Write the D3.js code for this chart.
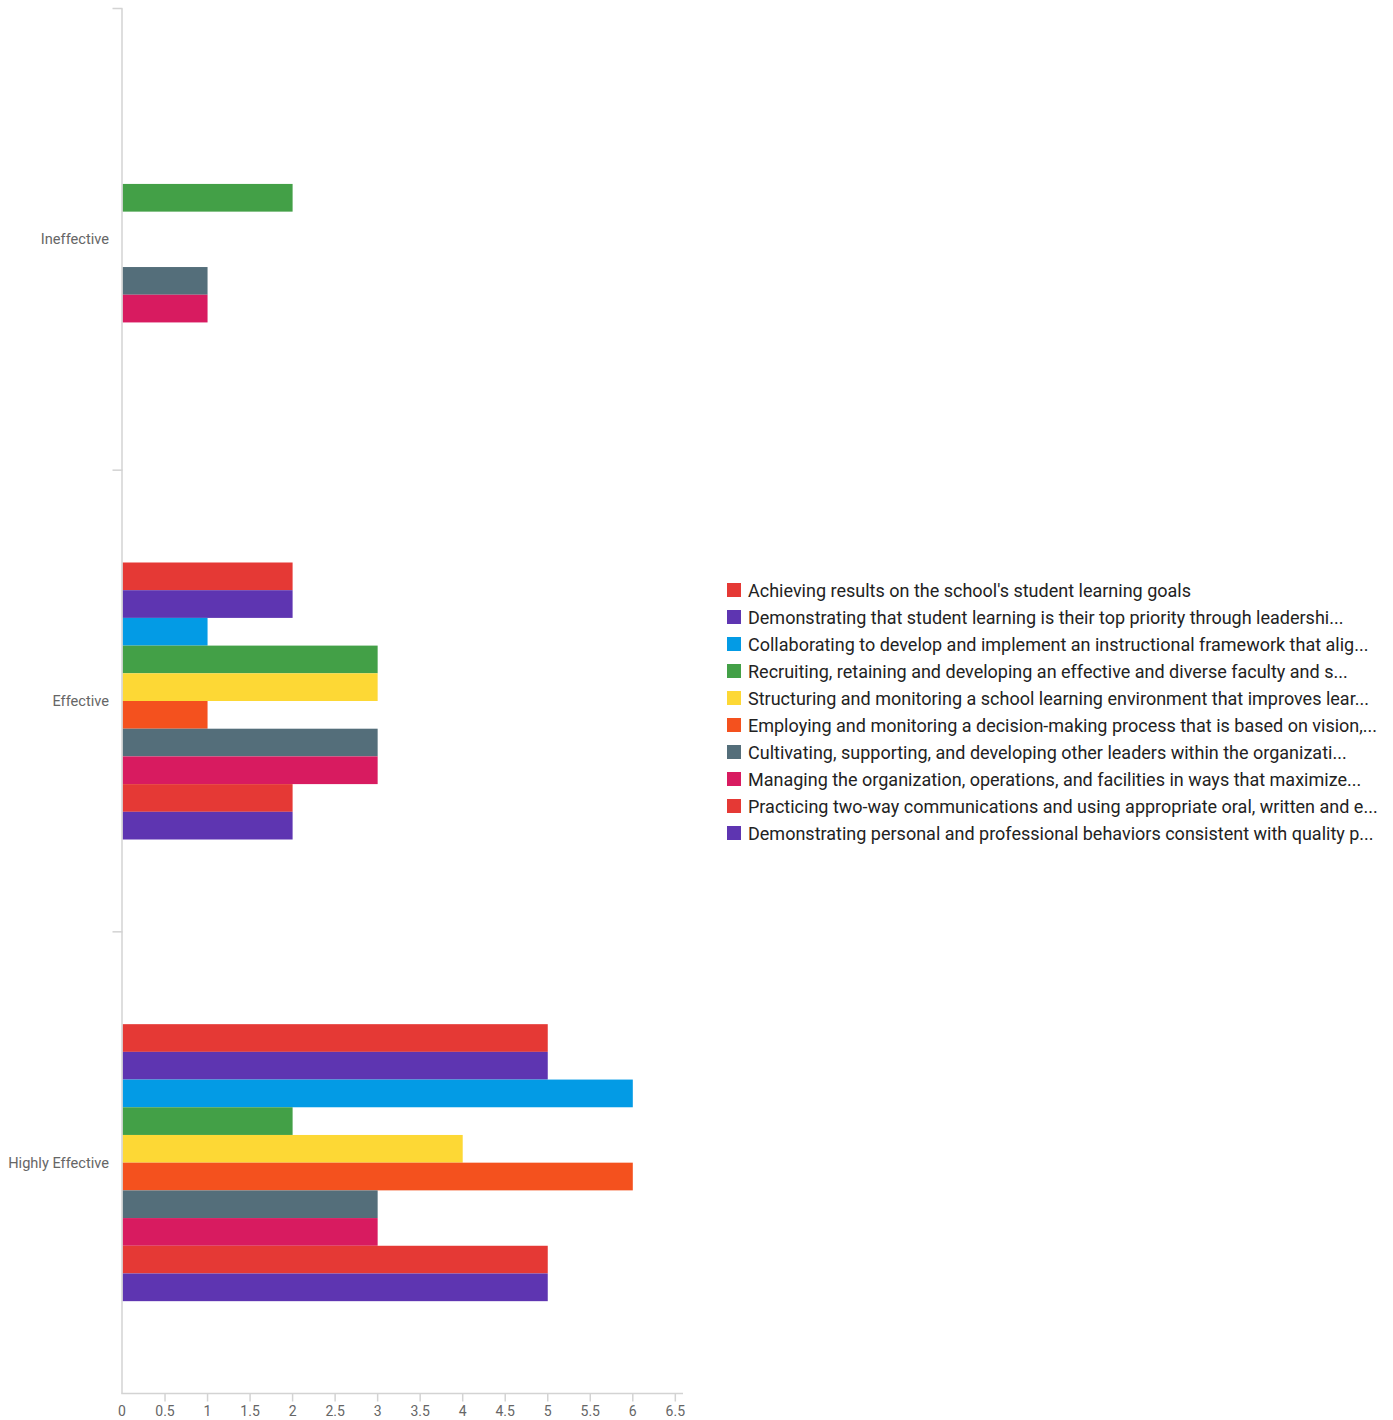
<!DOCTYPE html>
<html><head><meta charset="utf-8">
<script src="https://cdn.jsdelivr.net/npm/d3@7"></script>
<style>body{margin:0;background:#fff;}svg{display:block;}</style>
</head><body>
<script>
const categories = ["Ineffective", "Effective", "Highly Effective"];
const seriesNames = [
  "Achieving results on the school's student learning goals",
  "Demonstrating that student learning is their top priority through leadershi...",
  "Collaborating to develop and implement an instructional framework that alig...",
  "Recruiting, retaining and developing an effective and diverse faculty and s...",
  "Structuring and monitoring a school learning environment that improves lear...",
  "Employing and monitoring a decision-making process that is based on vision,...",
  "Cultivating, supporting, and developing other leaders within the organizati...",
  "Managing the organization, operations, and facilities in ways that maximize...",
  "Practicing two-way communications and using appropriate oral, written and e...",
  "Demonstrating personal and professional behaviors consistent with quality p..."
];
const seriesColors = ["#E53935","#5E35B1","#039BE5","#43A047","#FDD835","#F4511E","#546E7A","#D81B60","#E53935","#5E35B1"];
const valuesIneffective = [0,0,0,2,0,0,1,1,0,0];
const valuesEffective = [2,2,1,3,3,1,3,3,2,2];
const valuesHighlyEffective = [5,5,6,2,4,6,3,3,5,5];
const xTicks = [0,0.5,1,1.5,2,2.5,3,3.5,4,4.5,5,5.5,6,6.5];
const xMax = 6.5;

const values = [valuesIneffective, valuesEffective, valuesHighlyEffective];

const W = 1393, H = 1420;
const svg = d3.select("body").append("svg").attr("width", W).attr("height", H);
const font = "Roboto, 'Open Sans', sans-serif";

const x0 = 122.5, y0 = 8.5, yBottom = 1393.5;
const x = d3.scaleLinear().domain([0, xMax]).range([x0, x0 + 85.05 * xMax]);
const y = d3.scaleBand().domain(categories).range([y0, yBottom]).paddingInner(0.4).paddingOuter(0.2);
const ys = d3.scaleBand().domain(d3.range(seriesNames.length)).range([0, y.bandwidth()]);

// bars
categories.forEach((c, ci) => {
  svg.append("g").selectAll("rect").data(values[ci]).join("rect")
    .attr("x", x(0))
    .attr("y", (d, i) => y(c) + ys(i))
    .attr("width", d => x(d) - x(0))
    .attr("height", ys.bandwidth())
    .attr("fill", (d, i) => seriesColors[i]);
});

const axisColor = "#d3d3d3";
// y axis
const step = y.step();
const boundaries = [0,1,2].map(i => y0 + i * step);
svg.append("line").attr("x1", x0 - 0.5).attr("x2", x0 - 0.5).attr("y1", y0).attr("y2", yBottom)
  .attr("stroke", axisColor).attr("stroke-width", 1.5);
svg.append("g").selectAll("line").data(boundaries).join("line")
  .attr("x1", x0 - 10).attr("x2", x0).attr("y1", d => d).attr("y2", d => d)
  .attr("stroke", axisColor).attr("stroke-width", 1.5);
svg.append("g").selectAll("text").data(categories).join("text")
  .attr("x", 109).attr("y", d => y(d) + y.bandwidth() / 2)
  .attr("text-anchor", "end").attr("dominant-baseline", "central")
  .attr("font-family", font).attr("font-size", 14.6).attr("fill", "#666")
  .text(d => d);

// x axis
svg.append("line").attr("x1", x0 - 1.25).attr("x2", 683).attr("y1", yBottom).attr("y2", yBottom)
  .attr("stroke", axisColor).attr("stroke-width", 1.5);
svg.append("g").selectAll("line").data(xTicks.filter(t => t > 0)).join("line")
  .attr("x1", d => x(d)).attr("x2", d => x(d)).attr("y1", yBottom).attr("y2", yBottom + 8)
  .attr("stroke", axisColor).attr("stroke-width", 1.5);
svg.append("g").selectAll("text").data(xTicks).join("text")
  .attr("x", d => x(d) - (d === 0 ? 0.5 : 0)).attr("y", 1411)
  .attr("text-anchor", "middle").attr("dominant-baseline", "central")
  .attr("font-family", font).attr("font-size", 14).attr("fill", "#666")
  .text(d => d);

// legend
const lg = svg.append("g");
seriesNames.forEach((n, i) => {
  const cy = 590 + i * 27;
  lg.append("rect").attr("x", 727).attr("y", cy - 7).attr("width", 14).attr("height", 14).attr("fill", seriesColors[i]);
  lg.append("text").attr("x", 748).attr("y", cy).attr("dominant-baseline", "central")
    .attr("font-family", font).attr("font-size", 18).attr("fill", "#222").text(n);
});
</script>
</body></html>
